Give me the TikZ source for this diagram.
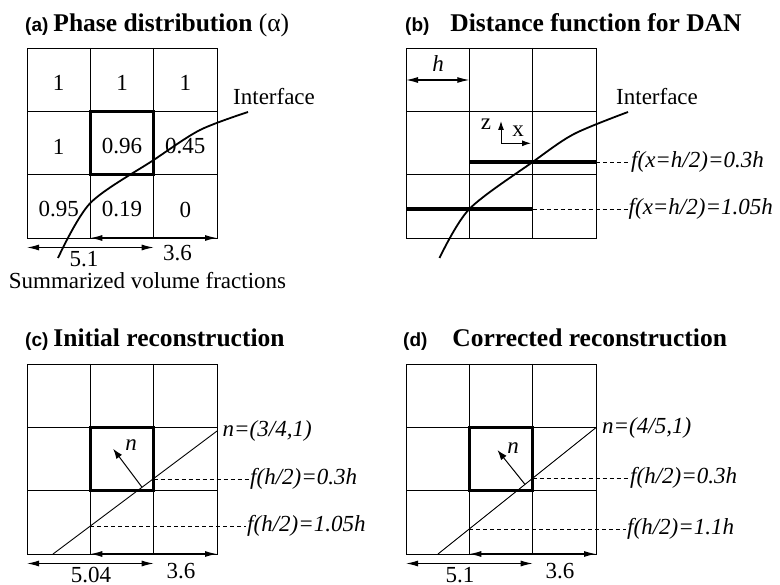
\documentclass[tikz,border=0pt]{standalone}
\usepackage{fontspec}
\setmainfont{Liberation Serif}
\newfontfamily\tagfont{Liberation Sans}
\usetikzlibrary{arrows.meta}

% 3x3 cell grid, 190pt wide, origin at its top left corner
\newcommand{\cellgrid}{%
  \draw[gridline] (0,0) rectangle (190,190);
  \foreach \k in {63.33,126.67} {
    \draw[gridline] (\k,0) -- (\k,190);
    \draw[gridline] (0,\k) -- (190,\k);
  }}

\begin{document}
\begin{tikzpicture}[x=1pt, y=-1pt,
  gridline/.style={line width=0.9pt},
  cellbox/.style={line width=3pt},
  heightline/.style={line width=3.2pt},
  interface/.style={line width=1.8pt},
  dimarrow/.style={line width=1.1pt, {Latex[length=12pt,width=6pt]}-{Latex[length=12pt,width=6pt]}},
  normalarrow/.style={line width=1pt, -{Latex[length=10pt,width=7pt]}},
  axisarrow/.style={line width=1pt, -{Latex[length=9pt,width=6pt]}},
  leader/.style={line width=0.9pt, dash pattern=on 4pt off 3pt},
  txt/.style={font=\fontsize{23}{27}\selectfont, inner sep=0pt},
  lab/.style={font=\fontsize{23}{27}\selectfont\itshape, anchor=west, inner sep=1pt},
  title/.style={font=\fontsize{25.5}{30}\selectfont\bfseries, anchor=base west, inner sep=0pt},
]
  \useasboundingbox (0,0) rectangle (780,585);

  % Titles
  \node (title-a) [title] at (25,32) {{\tagfont\fontsize{19}{23}\selectfont (a)}\hspace{5pt}Phase distribution {\mdseries(α)}};
  \node (title-b) [title] at (405,32) {{\tagfont\fontsize{19}{23}\selectfont (b)}\hspace{21pt}Distance function for DAN};
  \node (title-c) [title] at (25,347) {{\tagfont\fontsize{19}{23}\selectfont (c)}\hspace{5pt}Initial reconstruction};
  \node (title-d) [title] at (403,347) {{\tagfont\fontsize{19}{23}\selectfont (d)}\hspace{25pt}Corrected reconstruction};

  % (a) Phase distribution
  \begin{scope}[shift={(27,48)}]
    \cellgrid
    \draw[cellbox] (63.33,63.33) rectangle (126.67,126.67);
    \node (a-11) [txt] at (31.67,35) {1};
    \node (a-12) [txt] at (95,35) {1};
    \node (a-13) [txt] at (158.33,35) {1};
    \node (a-21) [txt] at (31.67,98.5) {1};
    \node (a-22) [txt] at (95,98.5) {0.96};
    \node (a-23) [txt] at (158.33,98.5) {0.45};
    \node (a-31) [txt] at (31.67,161.5) {0.95};
    \node (a-32) [txt] at (95,161.5) {0.19};
    \node (a-33) [txt] at (158.33,161.5) {0};
    \draw[interface] plot[smooth] coordinates {(31,210) (63.33,155) (126.67,112) (173,82) (221,64)};
    \node (iface-a) [txt, anchor=base west] at (206,57) {Interface};
    % Arrow
    \draw[dimarrow] (63.33,190) -- (190,190);
    \draw[dimarrow] (0,199.5) -- (126.67,199.5);
    \node (a-left) [txt, anchor=base] at (57,219) {5.1};
    \node (a-right) [txt, anchor=base] at (150.5,213) {3.6};
    \node (a-sum) [txt, anchor=base] at (120.5,241) {Summarized volume fractions};
  \end{scope}

  % (b) Distance function
  \begin{scope}[shift={(406,48)}]
    \cellgrid
    \draw[dimarrow] (0,32) -- (63.33,32);
    \node (b-h) [txt, anchor=base, font=\fontsize{23}{27}\selectfont\itshape] at (32,24) {h};
    \draw[axisarrow] (95,95.3) -- (95,73);
    \draw[axisarrow] (95,95.3) -- (125,95.3);
    \node (b-z) [txt, anchor=base] at (80,82) {z};
    \node (b-x) [txt, anchor=base] at (112,89) {x};
    \draw[heightline] (63.33,114) -- (190,114);
    \draw[heightline] (0,161) -- (126.67,161);
    \draw[interface] plot[smooth] coordinates {(33.5,210) (63.33,161) (126.67,114) (168,86) (222,64)};
    \node (iface-b) [txt, anchor=base west] at (210,57) {Interface};
    \node (b-f1) [lab] at (224,114) {f(x=h/2)=0.3h};
    \node (b-f2) [lab] at (221.5,161) {f(x=h/2)=1.05h};
    \draw[leader] (190,114) -- (b-f1.west);
    \draw[leader] (126.67,161) -- (b-f2.west);
  \end{scope}

  % (c) Initial reconstruction
  \begin{scope}[shift={(27,364)}]
    \cellgrid
    \draw[cellbox] (63.33,63.33) rectangle (126.67,126.67);
    \draw[gridline] (26,190) -- (190,67);
    \draw[normalarrow] (115,123.25) -- (86.2,84.85);
    \node (c-n) [txt, font=\fontsize{23}{27}\selectfont\itshape] at (104,81) {n};
    \node (c-nv) [lab] at (194.5,67) {n=(3/4,1)};
    \node (c-f1) [lab] at (222,115) {f(h/2)=0.3h};
    \node (c-f2) [lab] at (219,162) {f(h/2)=1.05h};
    \draw[leader] (126.67,115) -- (c-f1.west);
    \draw[leader] (63.33,162) -- (c-f2.west);
    % Arrow
    \draw[dimarrow] (63.33,190) -- (190,190);
    \draw[dimarrow] (0,199.5) -- (126.67,199.5);
    \node (c-left) [txt, anchor=base] at (64,218) {5.04};
    \node (c-right) [txt, anchor=base] at (154,214) {3.6};
  \end{scope}

  % (d) Corrected reconstruction
  \begin{scope}[shift={(406,364)}]
    \cellgrid
    \draw[cellbox] (63.33,63.33) rectangle (126.67,126.67);
    \draw[gridline] (32,190) -- (190,63.6);
    \draw[normalarrow] (119,120.4) -- (91.5,86.1);
    \node (d-n) [txt, font=\fontsize{23}{27}\selectfont\itshape] at (107,84) {n};
    \node (d-nv) [lab] at (195,63.6) {n=(4/5,1)};
    \node (d-f1) [lab] at (223,114.3) {f(h/2)=0.3h};
    \node (d-f2) [lab] at (220,165) {f(h/2)=1.1h};
    \draw[leader] (126.67,114.3) -- (d-f1.west);
    \draw[leader] (63.33,165) -- (d-f2.west);
    % Arrow
    \draw[dimarrow] (63.33,190) -- (190,190);
    \draw[dimarrow] (0,199.5) -- (126.67,199.5);
    \node (d-left) [txt, anchor=base] at (54,218) {5.1};
    \node (d-right) [txt, anchor=base] at (154,214) {3.6};
  \end{scope}
\end{tikzpicture}
\end{document}
